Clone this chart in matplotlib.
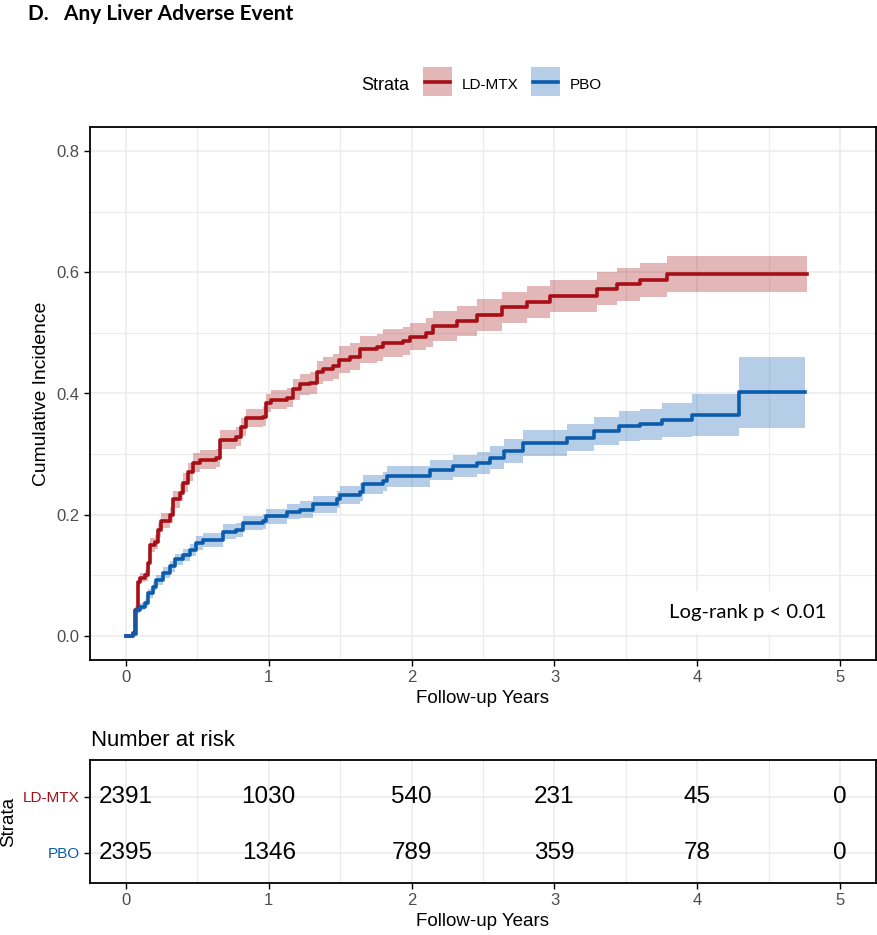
import matplotlib
matplotlib.use("Agg")
import matplotlib.pyplot as plt
from matplotlib.patches import Rectangle
from matplotlib.lines import Line2D
import numpy as np

plt.rcParams['font.family'] = ['Liberation Sans', 'DejaVu Sans']

# ---------------- data ----------------
strata = ["LD-MTX", "PBO"]
strata_colors = ["#A50F15", "#0B5CAD"]

mtx_time = [0, 0.05, 0.063, 0.086, 0.098, 0.133, 0.154, 0.168, 0.203, 0.224, 0.25,
            0.308, 0.33, 0.378, 0.40, 0.436, 0.47, 0.518, 0.635, 0.658, 0.775, 0.81,
            0.845, 0.96, 0.985, 1.02, 1.125, 1.17, 1.22, 1.29, 1.335, 1.38, 1.45, 1.49,
            1.57, 1.64, 1.755, 1.80, 1.94, 1.99, 2.10, 2.15, 2.32, 2.46, 2.63, 2.81,
            2.97, 3.30, 3.44, 3.60, 3.79, 4.77]
mtx_est = [0, 0.005, 0.043, 0.088, 0.096, 0.10, 0.12, 0.15, 0.155, 0.175, 0.19,
           0.20, 0.225, 0.236, 0.253, 0.27, 0.286, 0.291, 0.294, 0.324, 0.329, 0.345,
           0.36, 0.362, 0.385, 0.39, 0.393, 0.407, 0.415, 0.418, 0.435, 0.44, 0.445, 0.456,
           0.461, 0.473, 0.476, 0.484, 0.486, 0.494, 0.50, 0.512, 0.52, 0.53, 0.542, 0.551,
           0.561, 0.573, 0.58, 0.587, 0.597, 0.597]
mtx_ci_hw = [0, 0.003, 0.006, 0.007, 0.008, 0.009, 0.010, 0.011, 0.011, 0.012, 0.012,
             0.013, 0.014, 0.014, 0.015, 0.015, 0.015, 0.015, 0.015, 0.015, 0.015, 0.015,
             0.015, 0.015, 0.015, 0.015, 0.016, 0.017, 0.018, 0.018, 0.019, 0.020, 0.021, 0.022,
             0.022, 0.022, 0.022, 0.023, 0.023, 0.023, 0.024, 0.025, 0.025, 0.026, 0.026, 0.026,
             0.027, 0.027, 0.027, 0.028, 0.030, 0.030]

pbo_time = [0, 0.05, 0.075, 0.098, 0.133, 0.156, 0.19, 0.215, 0.26, 0.308, 0.343,
            0.40, 0.448, 0.495, 0.54, 0.68, 0.775, 0.82, 0.96, 0.985, 1.125, 1.22,
            1.31, 1.475, 1.50, 1.64, 1.66, 1.80, 1.83, 2.13, 2.29, 2.46, 2.55, 2.65,
            2.78, 3.09, 3.28, 3.45, 3.60, 3.75, 3.96, 4.29, 4.75]
pbo_est = [0, 0.003, 0.043, 0.048, 0.054, 0.07, 0.081, 0.092, 0.104, 0.115, 0.126,
           0.134, 0.142, 0.153, 0.158, 0.172, 0.175, 0.186, 0.189, 0.197, 0.205, 0.208,
           0.217, 0.225, 0.233, 0.238, 0.25, 0.255, 0.263, 0.274, 0.28, 0.285, 0.294, 0.305,
           0.318, 0.327, 0.338, 0.346, 0.349, 0.357, 0.365, 0.402, 0.402]
pbo_ci_hw = [0, 0.002, 0.005, 0.006, 0.006, 0.007, 0.007, 0.008, 0.009, 0.009, 0.009,
             0.010, 0.010, 0.011, 0.011, 0.012, 0.012, 0.012, 0.012, 0.013, 0.013, 0.014,
             0.014, 0.014, 0.015, 0.015, 0.016, 0.016, 0.017, 0.017, 0.018, 0.018, 0.019, 0.020,
             0.021, 0.022, 0.023, 0.025, 0.026, 0.028, 0.035, 0.059, 0.059]

risk_times = [0, 1, 2, 3, 4, 5]
risk_mtx = [2391, 1030, 540, 231, 45, 0]
risk_pbo = [2395, 1346, 789, 359, 78, 0]

x_ticks = [0, 1, 2, 3, 4, 5]
x_tick_labels = ["0", "1", "2", "3", "4", "5"]
y_ticks = [0.0, 0.2, 0.4, 0.6, 0.8]
y_tick_labels = ["0.0", "0.2", "0.4", "0.6", "0.8"]

title = "D.   Any Liver Adverse Event"
pval_text = "Log-rank p < 0.01"

# ---------------- figure ----------------
W, H = 877, 935
fig = plt.figure(figsize=(W / 100, H / 100), dpi=100)

def fx(px):
    return px / W

def fy(py):
    return 1 - py / H

GRID = "#EBEBEB"
TICKC = "#4D4D4D"

def style_axes(a):
    for s in a.spines.values():
        s.set_linewidth(1.3)
        s.set_color("black")
    a.tick_params(which="major", length=4, width=1.0, color="black",
                  labelcolor=TICKC, labelsize=12)
    a.tick_params(which="minor", length=0)
    a.grid(which="major", color=GRID, lw=1.1)
    a.grid(which="minor", color=GRID, lw=0.8)
    a.set_axisbelow(True)

ax = fig.add_axes([fx(90), fy(660), fx(876) - fx(90), fy(127) - fy(660)])
style_axes(ax)
ax.set_xlim(-0.25, 5.25)
ax.set_ylim(-0.04, 0.84)
ax.set_xticks(x_ticks)
ax.set_xticklabels(x_tick_labels)
ax.set_xticks(np.arange(0.5, 5, 1.0), minor=True)
ax.set_yticks(y_ticks)
ax.set_yticklabels(y_tick_labels)
ax.set_yticks([0.1, 0.3, 0.5, 0.7], minor=True)
ax.set_xlabel("Follow-up Years", fontsize=13.5, labelpad=3)
ax.set_ylabel("Cumulative Incidence", fontsize=13.9, labelpad=5)

series = [(mtx_time, mtx_est, mtx_ci_hw), (pbo_time, pbo_est, pbo_ci_hw)]
for (t, e, hw), col in zip(series, strata_colors):
    t = np.array(t); e = np.array(e); hw = np.array(hw)
    ax.fill_between(t, e - hw, e + hw, step="post", color=col, alpha=0.3, lw=0)
    ax.step(t, e, where="post", color=col, lw=2.6)

ax.text(4.35, 0.038, pval_text, fontsize=14.6, family=["Lato", "DejaVu Sans"],
        ha="center", va="center",
        bbox=dict(boxstyle="square,pad=0.65", fc="white", ec="none"))

# ---------------- legend ----------------
fig.text(fx(361), fy(85), "Strata", fontsize=13, ha="left", va="center")
leg_boxes = [(423, 462), (531, 570)]
for (bx, tx), name, col in zip(leg_boxes, strata, strata_colors):
    fig.add_artist(Rectangle((fx(bx), fy(96)), fx(29), fy(67) - fy(96),
                             transform=fig.transFigure, fc=col, alpha=0.3, ec="none"))
    fig.add_artist(Line2D([fx(bx + 2), fx(bx + 27)], [fy(82), fy(82)],
                          transform=fig.transFigure, color=col, lw=2.6))
    fig.text(fx(tx), fy(85), name, fontsize=11, ha="left", va="center")

# ---------------- title ----------------
fig.text(fx(28), fy(14), title, fontsize=15, fontweight="bold",
         family=["Lato", "DejaVu Sans"], ha="left", va="center")

# ---------------- risk table ----------------
ax2 = fig.add_axes([fx(90), fy(883), fx(876) - fx(90), fy(760) - fy(883)])
style_axes(ax2)
ax2.set_xlim(-0.25, 5.25)
ax2.set_ylim(0.46, 2.66)
ax2.set_xticks(x_ticks)
ax2.set_xticklabels(x_tick_labels)
ax2.set_xticks(np.arange(0.5, 5, 1.0), minor=True)
ax2.set_yticks([2, 1])
ax2.set_yticklabels(strata, fontsize=11)
for lab, col in zip(ax2.get_yticklabels(), strata_colors):
    lab.set_color(col)
ax2.grid(which="minor", axis="y", visible=False)
ax2.set_xlabel("Follow-up Years", fontsize=13.5, labelpad=3)
ax2.set_ylabel("Strata", fontsize=13.5, labelpad=4)
for counts, yrow in zip([risk_mtx, risk_pbo], [2, 1]):
    for t, n in zip(risk_times, counts):
        ax2.text(t, yrow, str(n), ha="center", va="center", fontsize=17.5,
                 color="black")
fig.text(fx(91), fy(740), "Number at risk", fontsize=15.9, ha="left", va="center")

fig.savefig("out.png", dpi=100)
